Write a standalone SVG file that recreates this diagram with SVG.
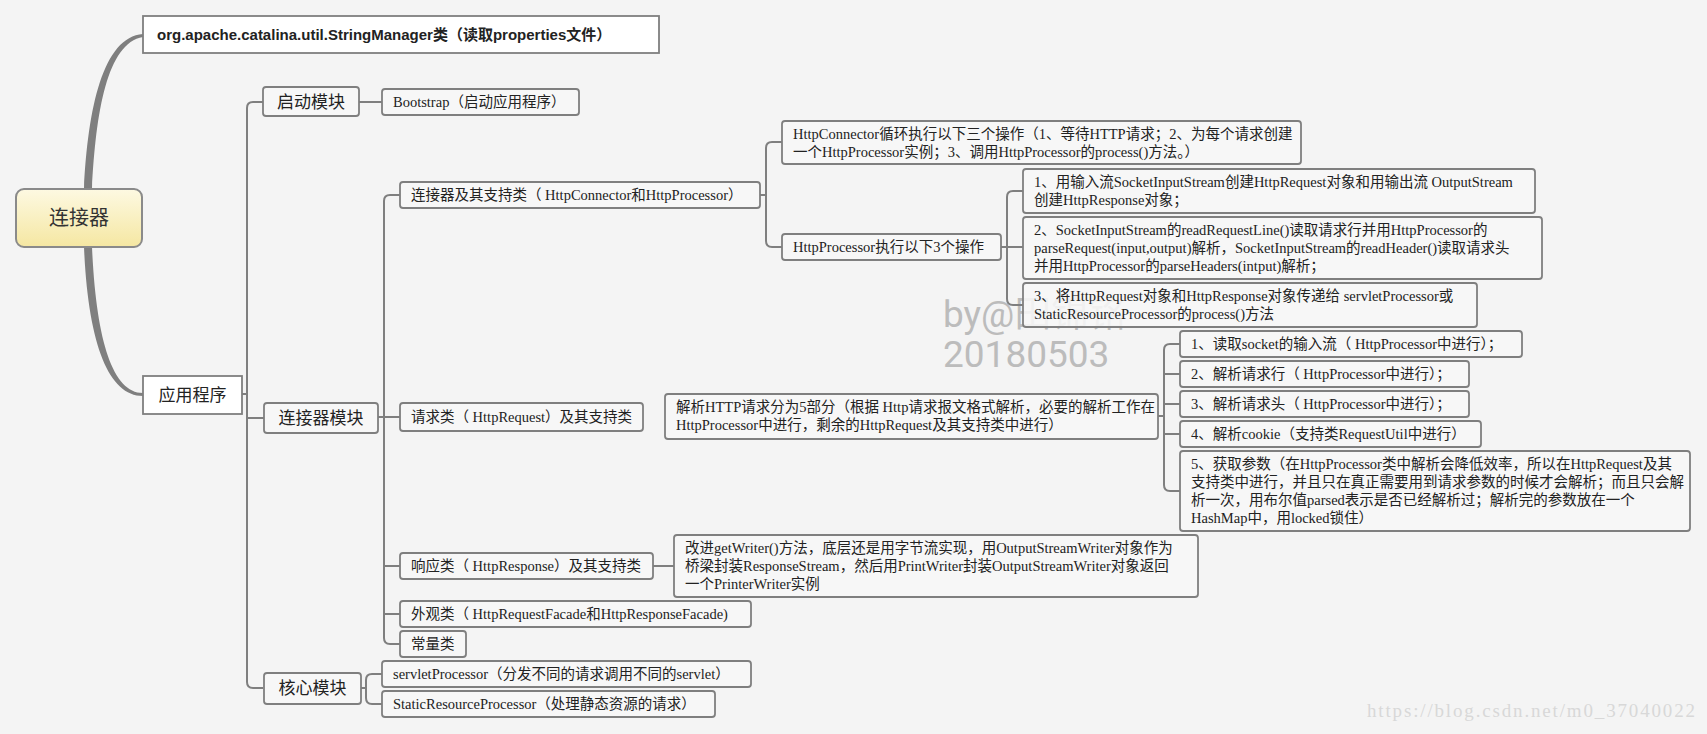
<svg xmlns="http://www.w3.org/2000/svg" width="1707" height="734" viewBox="0 0 1707 734">
<defs>
<linearGradient id="rootFill" x1="0" y1="0" x2="0" y2="1">
<stop offset="0" stop-color="#fdf9e2"/>
<stop offset="1" stop-color="#f5e7a2"/>
</linearGradient>
<style>
.bg{fill:#f4f4f4}
.box{fill:#f7f7f7;fill-opacity:0.88;stroke:#7f7f7f;stroke-width:1.8}
.wbox{fill:#ffffff;stroke:#7f7f7f;stroke-width:1.8}
.rootbox{fill:url(#rootFill);stroke:#8a8a8a;stroke-width:2}
.t{font-family:"Liberation Serif","Noto Sans CJK SC",serif;font-size:14.5px;fill:#222}
.m{font-family:"Noto Sans CJK SC",sans-serif;font-size:17px;fill:#222;text-anchor:middle}
.r{font-family:"Noto Sans CJK SC",sans-serif;font-size:20px;fill:#333;text-anchor:middle}
.org{font-family:"Liberation Sans","Noto Sans CJK SC",sans-serif;font-size:15px;font-weight:bold;fill:#222}
.ln{fill:none;stroke:#7f7f7f;stroke-width:2}
.thick{fill:#7f7f7f;stroke:none}
.wm{font-family:Roboto,"Noto Sans CJK SC",sans-serif;font-size:37px;fill:#bcbcbc}
.url{font-family:"Liberation Serif",serif;font-size:19px;fill:#d8d8d8}
</style>
</defs>
<rect class="bg" x="0" y="0" width="1707" height="734"/>

<g id="watermark">
<text class="wm" x="943" y="327">by@田锦铭</text>
<text class="wm" x="943" y="367">20180503</text>
<text class="url" x="1367" y="717" textLength="328">https://blog.csdn.net/m0_37040022</text>
</g>

<g id="connectors">
<path class="thick" d="M84,189 C88,108 103,37 143,34 L143,37 C107,43 96,112 92,189 Z"/>
<path class="thick" d="M84,247 C88,342 108,396 143,396 L143,393 C112,393 96,338 92,247 Z"/>
<path class="ln" d="M242,394 H247"/>
<path class="ln" d="M263,102 H253 Q247,102 247,108 V682 Q247,688 253,688 H263"/>
<path class="ln" d="M247,418 H264"/>
<path class="ln" d="M359,102 H382"/>
<path class="ln" d="M378,417 H400"/>
<path class="ln" d="M400,195 H390 Q384,195 384,201 V638 Q384,644 390,644 H400"/>
<path class="ln" d="M384,566 H400"/>
<path class="ln" d="M384,614 H400"/>
<path class="ln" d="M760,195 H766"/>
<path class="ln" d="M782,142 H772 Q766,142 766,148 V241 Q766,247 772,247 H782"/>
<path class="ln" d="M1001,247 H1023"/>
<path class="ln" d="M1023,191 H1013 Q1007,191 1007,197 V299 Q1007,305 1013,305 H1023"/>
<path class="ln" d="M1158,416 H1164"/>
<path class="ln" d="M1180,344 H1170 Q1164,344 1164,350 V485 Q1164,491 1170,491 H1180"/>
<path class="ln" d="M1164,374 H1180"/>
<path class="ln" d="M1164,404 H1180"/>
<path class="ln" d="M1164,434 H1180"/>
<path class="ln" d="M653,566 H674"/>
<path class="ln" d="M361,688 H366"/>
<path class="ln" d="M382,674 H372 Q366,674 366,680 V698 Q366,704 372,704 H382"/>
</g>

<g id="root">
<rect class="rootbox" x="16" y="189" width="126" height="58" rx="8"/>
<text class="r" x="79" y="225">连接器</text>
</g>

<g id="stringmanager">
<rect class="wbox" x="143" y="16" width="516" height="37"/>
<text class="org" x="157" y="40">org.apache.catalina.util.StringManager类（读取properties文件）</text>
</g>

<g id="app">
<rect class="wbox" x="143" y="376" width="99" height="38"/>
<text class="m" x="192.5" y="401">应用程序</text>
</g>

<g id="startup">
<rect class="box" x="263" y="87" width="96" height="29" rx="3"/>
<text class="m" x="311" y="108">启动模块</text>
</g>

<g id="bootstrap">
<rect class="box" x="382" y="89" width="197" height="26" rx="3"/>
<text class="t" x="393" y="107">Bootstrap（启动应用程序）</text>
</g>

<g id="connectorModule">
<rect class="box" x="264" y="403" width="114" height="30" rx="3"/>
<text class="m" x="321" y="424">连接器模块</text>
</g>

<g id="coreModule">
<rect class="box" x="264" y="673" width="97" height="31" rx="3"/>
<text class="m" x="312.5" y="694">核心模块</text>
</g>

<g id="connectorClasses">
<rect class="box" x="400" y="182" width="360" height="26" rx="3"/>
<text class="t" x="411" y="200">连接器及其支持类（ HttpConnector和HttpProcessor）</text>
</g>

<g id="httpConnector">
<rect class="box" x="782" y="121" width="519" height="43" rx="3"/>
<text class="t" x="793" y="139">HttpConnector循环执行以下三个操作（1、等待HTTP请求；2、为每个请求创建</text>
<text class="t" x="793" y="157">一个HttpProcessor实例；3、调用HttpProcessor的process()方法。）</text>
</g>

<g id="httpProcessor">
<rect class="box" x="782" y="234" width="219" height="26" rx="3"/>
<text class="t" x="793" y="252">HttpProcessor执行以下3个操作</text>
</g>

<g id="proc1">
<rect class="box" x="1023" y="169" width="512" height="44" rx="3"/>
<text class="t" x="1034" y="187">1、用输入流SocketInputStream创建HttpRequest对象和用输出流 OutputStream</text>
<text class="t" x="1034" y="205">创建HttpResponse对象；</text>
</g>

<g id="proc2">
<rect class="box" x="1023" y="217" width="519" height="62" rx="3"/>
<text class="t" x="1034" y="235">2、SocketInputStream的readRequestLine()读取请求行并用HttpProcessor的</text>
<text class="t" x="1034" y="253">parseRequest(input,output)解析，SocketInputStream的readHeader()读取请求头</text>
<text class="t" x="1034" y="271">并用HttpProcessor的parseHeaders(intput)解析；</text>
</g>

<g id="proc3">
<rect class="box" x="1023" y="283" width="454" height="44" rx="3"/>
<text class="t" x="1034" y="301">3、将HttpRequest对象和HttpResponse对象传递给 servletProcessor或</text>
<text class="t" x="1034" y="319">StaticResourceProcessor的process()方法</text>
</g>

<g id="requestClasses">
<rect class="box" x="400" y="403" width="243" height="28" rx="3"/>
<text class="t" x="411" y="422">请求类（ HttpRequest）及其支持类</text>
</g>

<g id="parseHttp">
<rect class="box" x="665" y="394" width="493" height="45" rx="3"/>
<text class="t" x="676" y="412">解析HTTP请求分为5部分（根据 Http请求报文格式解析，必要的解析工作在</text>
<text class="t" x="676" y="430">HttpProcessor中进行，剩余的HttpRequest及其支持类中进行）</text>
</g>

<g id="req1">
<rect class="box" x="1180" y="331" width="342" height="26" rx="3"/>
<text class="t" x="1191" y="349">1、读取socket的输入流（ HttpProcessor中进行）；</text>
</g>

<g id="req2">
<rect class="box" x="1180" y="361" width="289" height="26" rx="3"/>
<text class="t" x="1191" y="379">2、解析请求行（ HttpProcessor中进行）；</text>
</g>

<g id="req3">
<rect class="box" x="1180" y="391" width="289" height="26" rx="3"/>
<text class="t" x="1191" y="409">3、解析请求头（ HttpProcessor中进行）；</text>
</g>

<g id="req4">
<rect class="box" x="1180" y="421" width="301" height="26" rx="3"/>
<text class="t" x="1191" y="439">4、解析cookie（支持类RequestUtil中进行）</text>
</g>

<g id="req5">
<rect class="box" x="1180" y="451" width="510" height="80" rx="3"/>
<text class="t" x="1191" y="469">5、获取参数（在HttpProcessor类中解析会降低效率，所以在HttpRequest及其</text>
<text class="t" x="1191" y="487">支持类中进行，并且只在真正需要用到请求参数的时候才会解析；而且只会解</text>
<text class="t" x="1191" y="505">析一次，用布尔值parsed表示是否已经解析过；解析完的参数放在一个</text>
<text class="t" x="1191" y="523">HashMap中，用locked锁住）</text>
</g>

<g id="responseClasses">
<rect class="box" x="400" y="553" width="253" height="26" rx="3"/>
<text class="t" x="411" y="571">响应类（ HttpResponse）及其支持类</text>
</g>

<g id="getWriter">
<rect class="box" x="674" y="535" width="524" height="62" rx="3"/>
<text class="t" x="685" y="553">改进getWriter()方法，底层还是用字节流实现，用OutputStreamWriter对象作为</text>
<text class="t" x="685" y="571">桥梁封装ResponseStream，然后用PrintWriter封装OutputStreamWriter对象返回</text>
<text class="t" x="685" y="589">一个PrinterWriter实例</text>
</g>

<g id="facade">
<rect class="box" x="400" y="601" width="351" height="26" rx="3"/>
<text class="t" x="411" y="619">外观类（ HttpRequestFacade和HttpResponseFacade)</text>
</g>

<g id="constants">
<rect class="box" x="400" y="631" width="66" height="26" rx="3"/>
<text class="t" x="411" y="649">常量类</text>
</g>

<g id="servletProcessor">
<rect class="box" x="382" y="661" width="369" height="26" rx="3"/>
<text class="t" x="393" y="679">servletProcessor（分发不同的请求调用不同的servlet）</text>
</g>

<g id="staticProcessor">
<rect class="box" x="382" y="691" width="333" height="26" rx="3"/>
<text class="t" x="393" y="709">StaticResourceProcessor（处理静态资源的请求）</text>
</g>
</svg>
